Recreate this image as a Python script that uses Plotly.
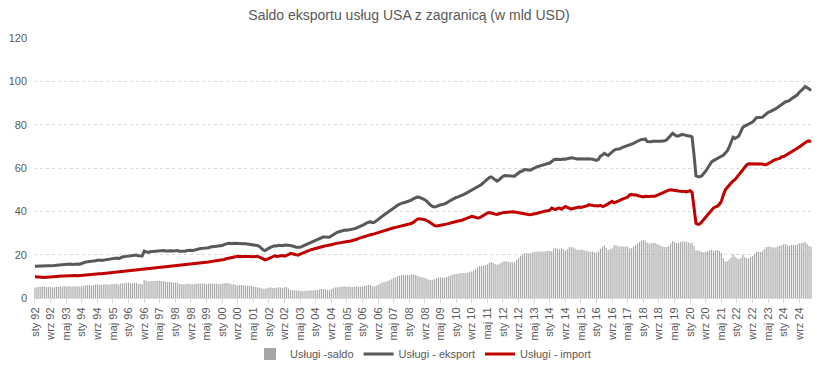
import plotly.graph_objects as go

month_names = ['sty', 'lut', 'mar', 'kwi', 'maj', 'cze', 'lip', 'sie', 'wrz', 'paź', 'lis', 'gru']
years = list(range(1992, 2026))
n_months = 399  # sty 92 .. mar 25
categories = [f"{month_names[i % 12]} {years[i // 12] % 100:02d}" for i in range(n_months)]

export = [
    14.7,14.7,14.8,14.7,14.8,14.8,14.7,14.8,14.9,14.7,15.0,15.1,  # 1992
    15.2,15.5,15.4,15.6,15.5,15.6,15.7,15.5,15.6,15.8,15.7,15.6,  # 1993
    16.0,16.3,16.6,16.7,16.8,16.7,16.9,17.2,17.4,17.3,17.2,17.4,  # 1994
    17.6,17.8,17.7,18.0,18.2,18.3,18.5,18.2,18.8,19.0,19.1,19.2,  # 1995
    19.4,19.3,19.5,19.6,19.8,19.5,19.6,19.4,21.6,21.2,21.0,21.3,  # 1996
    21.4,21.5,21.6,21.8,21.9,21.8,21.9,21.7,21.8,21.9,21.8,21.7,  # 1997
    21.8,21.9,21.6,21.5,21.4,21.6,21.9,22.1,22.0,21.9,22.2,22.5,  # 1998
    22.7,22.8,22.9,23.0,22.9,23.2,23.5,23.6,23.5,23.7,23.8,23.9,  # 1999
    24.2,24.6,25.0,25.2,25.3,25.1,25.3,25.2,25.0,25.1,25.0,25.0,  # 2000
    25.0,24.9,24.8,24.7,24.5,24.4,24.2,23.9,23.0,22.2,21.9,22.3,  # 2001
    23.0,23.5,23.9,24.1,24.0,24.3,24.2,24.1,24.4,24.5,24.3,24.2,  # 2002
    24.1,23.8,23.4,23.3,23.4,23.8,24.2,24.8,25.2,25.6,26.0,26.2,  # 2003
    26.6,27.0,27.4,27.8,28.2,28.1,27.9,28.0,28.6,29.3,30.0,30.3,  # 2004
    30.6,30.9,31.2,31.4,31.3,31.5,31.4,31.6,32.0,32.4,32.8,33.0,  # 2005
    33.4,34.0,34.6,35.0,35.2,34.8,34.9,35.6,36.3,37.2,38.0,38.6,  # 2006
    39.0,39.6,40.3,40.9,41.6,42.2,42.8,43.3,43.8,44.0,44.2,44.5,  # 2007
    44.6,45.2,45.8,46.3,46.6,46.5,46.2,45.8,45.3,44.6,43.6,42.8,  # 2008
    42.2,42.0,42.3,42.8,43.0,43.1,43.3,43.8,44.4,45.0,45.6,46.1,  # 2009
    46.4,46.7,47.0,47.4,47.8,48.3,48.8,49.4,49.9,50.3,50.6,51.1,  # 2010
    51.8,52.4,53.2,54.0,54.8,55.6,55.9,55.2,54.3,53.9,54.5,55.4,  # 2011
    56.2,56.5,56.5,56.4,56.5,56.3,56.2,57.0,57.8,58.4,58.6,59.3,  # 2012
    59.2,59.0,59.0,59.5,60.0,60.4,60.7,61.0,61.3,61.5,61.8,62.0,  # 2013
    62.3,63.0,63.8,64.0,63.9,63.8,63.9,64.1,64.0,64.3,64.6,64.7,  # 2014
    64.6,64.3,64.2,64.3,64.2,64.3,64.2,64.3,64.4,64.2,64.0,63.6,  # 2015
    63.5,64.0,65.5,66.0,66.8,66.2,65.8,66.6,67.5,68.2,68.6,68.7,  # 2016
    68.9,69.4,69.7,70.0,70.3,70.5,70.9,71.4,71.9,72.3,72.8,73.2,  # 2017
    73.2,73.4,72.2,72.0,72.1,72.3,72.4,72.3,72.4,72.3,72.4,72.6,  # 2018
    73.0,73.8,75.0,76.0,75.4,74.8,74.8,75.2,75.5,75.3,75.0,74.8,  # 2019
    74.8,74.3,66.0,56.4,56.0,56.0,56.4,57.3,58.6,60.0,61.6,62.8,  # 2020
    63.4,64.0,64.4,64.9,65.4,65.9,66.8,67.9,69.6,71.8,74.2,73.6,  # 2021
    74.2,74.8,76.8,78.8,79.3,79.8,80.3,80.8,81.2,82.2,83.2,83.3,  # 2022
    83.3,83.4,84.2,85.0,85.7,86.0,86.4,86.8,87.4,88.0,88.6,89.4,  # 2023
    90.2,90.6,90.8,91.2,92.0,92.6,93.1,93.8,95.0,95.7,96.6,97.6,  # 2024
    97.2,96.5,95.7,                                               # 2025
]

imports = [
    9.8,9.7,9.6,9.5,9.4,9.5,9.6,9.7,9.8,9.9,10.0,10.0,            # 1992
    10.1,10.1,10.2,10.1,10.2,10.2,10.3,10.2,10.3,10.4,10.3,10.4,  # 1993
    10.5,10.6,10.8,10.7,10.8,10.9,11.0,11.0,11.1,11.2,11.2,11.3,  # 1994
    11.3,11.4,11.6,11.6,11.7,11.8,11.9,12.1,12.1,12.2,12.3,12.3,  # 1995
    12.4,12.5,12.7,12.7,12.8,13.0,13.0,13.1,13.2,13.2,13.3,13.5,  # 1996
    13.5,13.6,13.8,13.8,13.9,14.1,14.1,14.2,14.4,14.4,14.5,14.7,  # 1997
    14.7,14.8,15.0,15.0,15.1,15.3,15.3,15.4,15.6,15.6,15.7,15.9,  # 1998
    16.0,16.1,16.2,16.3,16.5,16.6,16.8,16.9,17.0,17.1,17.3,17.4,  # 1999
    17.6,17.8,18.1,18.3,18.6,18.8,19.0,19.2,19.3,19.1,19.0,19.2,  # 2000
    19.2,19.3,19.2,19.0,19.1,19.3,19.2,19.0,18.5,17.9,17.6,17.8,  # 2001
    18.2,18.7,19.3,19.5,19.2,19.3,19.4,19.6,19.3,19.5,20.0,20.6,  # 2002
    20.5,20.2,19.9,19.8,20.2,20.6,21.0,21.4,21.8,22.1,22.4,22.6,  # 2003
    22.9,23.2,23.5,23.7,24.0,24.1,24.2,24.3,24.5,24.8,25.1,25.3,  # 2004
    25.5,25.7,25.9,26.0,26.1,26.2,26.3,26.5,26.8,27.1,27.5,27.8,  # 2005
    28.1,28.4,28.8,29.0,29.2,29.4,29.6,29.9,30.2,30.5,30.8,31.2,  # 2006
    31.4,31.7,32.0,32.2,32.4,32.6,32.8,33.0,33.3,33.5,33.7,33.9,  # 2007
    34.1,34.4,34.9,35.7,36.3,36.6,36.6,36.3,36.1,35.8,35.2,34.6,  # 2008
    33.8,33.4,33.2,33.3,33.5,33.7,33.9,34.1,34.4,34.7,34.9,35.1,  # 2009
    35.3,35.5,35.6,35.9,36.3,36.8,37.0,37.3,37.7,37.5,37.2,36.9,  # 2010
    37.0,37.6,38.3,38.8,39.2,39.4,39.3,39.0,38.7,38.6,38.9,39.3,  # 2011
    39.4,39.5,39.6,39.8,39.9,39.8,39.7,39.5,39.3,39.0,38.8,38.6,  # 2012
    38.6,38.5,38.4,38.5,38.7,39.0,39.2,39.5,39.8,40.0,40.2,40.3,  # 2013
    40.5,41.5,41.0,40.8,41.3,41.5,41.0,41.6,42.2,41.8,41.2,41.0,  # 2014
    41.3,41.6,41.9,42.0,41.8,42.0,42.3,42.5,43.0,42.8,42.5,42.6,  # 2015
    42.6,42.5,42.8,42.3,42.4,43.0,43.7,44.0,44.6,43.9,44.2,44.8,  # 2016
    45.1,45.5,45.9,46.2,46.6,47.6,47.8,47.5,47.6,47.3,47.0,46.7,  # 2017
    46.6,46.9,46.7,46.8,47.0,46.9,47.0,47.4,47.8,48.3,48.6,49.1,  # 2018
    49.5,49.8,49.9,49.7,49.6,49.5,49.4,49.3,49.4,49.2,49.0,49.1,  # 2019
    49.5,48.8,42.0,34.5,34.0,34.2,35.2,36.2,37.3,38.4,39.6,40.6,  # 2020
    41.6,42.0,42.4,43.2,44.6,47.5,49.8,51.0,52.0,53.2,54.0,54.6,  # 2021
    55.8,57.0,58.3,59.0,60.5,61.4,62.0,62.0,61.9,62.0,61.9,62.0,  # 2022
    62.1,61.8,61.6,61.5,62.0,62.4,63.0,63.6,64.0,64.2,64.4,65.2,  # 2023
    65.3,65.8,66.4,67.1,67.5,68.1,68.7,69.2,69.7,70.4,71.1,71.6,  # 2024
    72.3,72.5,72.0,                                               # 2025
]

saldo = [
    4.9,5.0,5.2,5.2,5.4,5.3,5.1,5.1,5.1,4.8,5.0,5.1,              # 1992
    5.1,5.4,5.2,5.5,5.3,5.4,5.4,5.3,5.3,5.4,5.4,5.2,              # 1993
    5.5,5.7,5.8,6.0,6.0,5.8,5.9,6.2,6.3,6.1,6.0,6.1,              # 1994
    6.3,6.4,6.1,6.4,6.5,6.5,6.6,6.1,6.7,6.8,6.8,6.9,              # 1995
    7.0,6.8,6.8,6.9,7.0,6.5,6.6,6.3,8.4,8.0,7.7,7.8,              # 1996
    7.9,7.9,7.8,8.0,8.0,7.7,7.8,7.5,7.4,7.5,7.3,7.0,              # 1997
    7.1,7.1,6.6,6.5,6.3,6.3,6.6,6.7,6.4,6.3,6.5,6.6,              # 1998
    6.7,6.7,6.7,6.7,6.4,6.6,6.7,6.7,6.5,6.6,6.5,6.5,              # 1999
    6.6,6.8,6.9,6.9,6.7,6.3,6.3,6.0,5.7,6.0,6.0,5.8,              # 2000
    5.8,5.6,5.6,5.7,5.4,5.1,5.0,4.9,4.5,4.3,4.3,4.5,              # 2001
    4.8,4.8,4.6,4.6,4.8,5.0,4.8,4.5,5.1,5.0,4.3,3.6,              # 2002
    3.6,3.6,3.5,3.5,3.2,3.2,3.2,3.4,3.4,3.5,3.6,3.6,              # 2003
    3.7,3.8,3.9,4.1,4.2,4.0,3.7,3.7,4.1,4.5,4.9,5.0,              # 2004
    5.1,5.2,5.3,5.4,5.2,5.3,5.1,5.1,5.2,5.3,5.3,5.2,              # 2005
    5.3,5.6,5.8,6.0,6.0,5.4,5.3,5.7,6.1,6.7,7.2,7.4,              # 2006
    7.6,7.9,8.3,8.7,9.2,9.6,10.0,10.3,10.5,10.5,10.5,10.6,        # 2007
    10.5,10.8,10.9,10.6,10.3,9.9,9.6,9.5,9.2,8.8,8.4,8.2,         # 2008
    8.4,8.6,9.1,9.5,9.5,9.4,9.4,9.7,10.0,10.3,10.7,11.0,          # 2009
    11.1,11.2,11.4,11.5,11.5,11.5,11.8,12.1,12.2,12.8,13.4,14.2,  # 2010
    14.8,14.8,14.9,15.2,15.6,16.2,16.6,16.2,15.6,15.3,15.6,16.1,  # 2011
    16.8,17.0,16.9,16.6,16.6,16.5,16.5,17.5,18.5,19.4,19.8,20.7,  # 2012
    20.6,20.5,20.6,21.0,21.3,21.4,21.5,21.5,21.5,21.5,21.6,21.7,  # 2013
    21.8,21.5,22.8,23.2,22.6,22.3,22.9,22.5,21.8,22.5,23.4,23.7,  # 2014
    23.3,22.7,22.3,22.3,22.4,22.3,21.9,21.8,21.4,21.4,21.5,21.0,  # 2015
    20.9,21.5,22.7,23.7,24.4,23.2,22.1,22.6,22.9,24.3,24.4,23.9,  # 2016
    23.8,23.9,23.8,23.8,23.7,22.9,23.1,23.9,24.3,25.0,25.8,26.5,  # 2017
    26.6,26.5,25.5,25.2,25.1,25.4,25.4,24.9,24.6,24.0,23.8,23.5,  # 2018
    23.5,24.0,25.1,26.3,25.8,25.3,25.4,25.9,26.1,26.1,26.0,25.7,  # 2019
    25.3,25.5,24.0,21.9,22.0,21.8,21.2,21.1,21.3,21.6,22.0,22.2,  # 2020
    21.8,22.0,22.0,21.7,20.8,18.4,17.0,16.9,17.6,18.6,20.2,19.0,  # 2021
    18.4,17.8,18.5,19.8,18.8,18.4,18.3,18.8,19.3,20.2,21.3,21.3,  # 2022
    21.2,21.6,22.6,23.5,23.7,23.6,23.4,23.2,23.4,23.8,24.2,24.2,  # 2023
    24.9,24.8,24.4,24.1,24.5,24.5,24.4,24.6,25.3,25.3,25.5,26.0,  # 2024
    24.9,24.0,23.7,                                               # 2025
]

tick_labels = categories[::8]

FONT = "Arial, Liberation Sans, sans-serif"
TXT = "#595959"

fig = go.Figure()
fig.add_trace(go.Bar(x=categories, y=saldo, name="Usługi -saldo",
                     marker=dict(color="rgba(166,166,166,0.995)", line=dict(width=0))))
fig.add_trace(go.Scatter(x=categories, y=export, name="Usługi - eksport", mode="lines",
                         line=dict(color="#595959", width=3)))
fig.add_trace(go.Scatter(x=categories, y=imports, name="Usługi - import", mode="lines",
                         line=dict(color="#c00000", width=3)))

fig.update_layout(
    width=818, height=368,
    margin=dict(l=34, r=6, t=38, b=70, autoexpand=False),
    paper_bgcolor="white", plot_bgcolor="white",
    font=dict(family=FONT, color=TXT, size=11),
    title=dict(text="Saldo eksportu usług USA z zagranicą (w mld USD)",
               x=0.5, xref="container", xanchor="center",
               y=1 - 15 / 368, yref="container", yanchor="middle",
               font=dict(family=FONT, size=14, color=TXT)),
    bargap=0.42,
    showlegend=True,
    legend=dict(orientation="h", x=0.5, xanchor="center",
                yref="container", y=1 - 354 / 368, yanchor="middle",
                font=dict(family=FONT, size=11, color=TXT), itemwidth=30,
                traceorder="normal"),
    xaxis=dict(type="category", categoryorder="array", categoryarray=categories,
               tickmode="array", tickvals=tick_labels, ticktext=tick_labels,
               tickangle=-90, tickfont=dict(size=11, color=TXT),
               showline=True, linecolor="#d9d9d9", linewidth=1,
               ticks="outside", ticklen=4, tickcolor="#d9d9d9",
               showgrid=False, automargin=False, range=[-0.5, n_months - 0.5]),
    yaxis=dict(range=[0, 120], dtick=20, tick0=0,
               showgrid=True, gridcolor="#d9d9d9", griddash="dot", gridwidth=1,
               zeroline=False, showline=False, ticks="", automargin=False,
               tickfont=dict(size=11, color=TXT), ticklabelstandoff=6),
)

fig.write_html("out.html", config={"displayModeBar": False},
               post_script="document.body.style.margin='0';document.body.style.overflow='hidden';")
